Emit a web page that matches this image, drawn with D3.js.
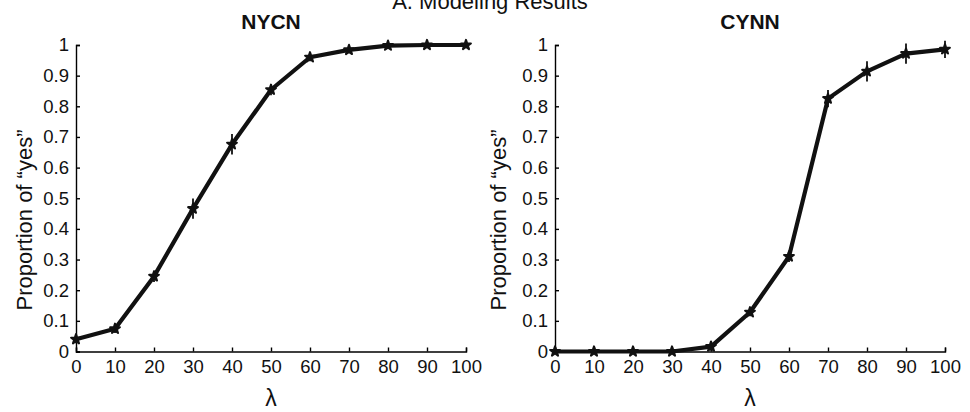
<!DOCTYPE html>
<html>
<head>
<meta charset="utf-8">
<script src="https://cdn.jsdelivr.net/npm/d3@7"></script>
<style>
    html, body { margin: 0; padding: 0; background: #fff; }
    svg { display: block; font-family: 'Liberation Sans', Arial, sans-serif; }
    .axis path, .axis line { stroke: #000; stroke-width: 1.4; }
    .axis text { font-size: 18.5px; fill: #111; }
</style>
</head>
<body>
<div id="chart"></div>
<script>
const lambdaValues = [0, 10, 20, 30, 40, 50, 60, 70, 80, 90, 100];
const yTicks = [0, 0.1, 0.2, 0.3, 0.4, 0.5, 0.6, 0.7, 0.8, 0.9, 1];

const nycnYes = [0.04, 0.074, 0.245, 0.466, 0.676, 0.854, 0.96, 0.984, 0.998, 1.0, 1.0];
const nycnErr = [0.01, 0.01, 0.015, 0.03, 0.03, 0.015, 0.01, 0.008, 0.005, 0.005, 0.005];

const cynnYes = [0, 0, 0, 0, 0.016, 0.128, 0.31, 0.825, 0.914, 0.972, 0.986];
const cynnErr = [0, 0, 0, 0, 0.01, 0.01, 0.015, 0.025, 0.03, 0.03, 0.025];

const panels = [
    { title: 'NYCN', values: nycnYes, errors: nycnErr, left: 76, right: 466, labelX: 32 },
    { title: 'CYNN', values: cynnYes, errors: cynnErr, left: 555, right: 945, labelX: 506 }
];

const width = 970;
const height = 412;
const plotTop = 45;
const plotBottom = 351.5;

const svg = d3.select('#chart')
    .append('svg')
    .attr('width', width)
    .attr('height', height)
    .attr('viewBox', `0 0 ${width} ${height}`);

// figure title, clipped by the top edge like the reference
svg.append('text')
    .attr('x', 490)
    .attr('y', 9)
    .attr('text-anchor', 'middle')
    .attr('font-size', 22)
    .attr('fill', '#111')
    .text('A. Modeling Results');

panels.forEach(panel => drawPanel(panel));

function drawPanel(panel) {
    const x = d3.scaleLinear()
        .domain([0, 100])
        .range([panel.left, panel.right]);

    const y = d3.scaleLinear()
        .domain([0, 1])
        .range([plotBottom, plotTop]);

    const g = svg.append('g');

    g.append('g')
        .attr('class', 'axis')
        .attr('transform', `translate(0,${plotBottom})`)
        .call(d3.axisTop(x).tickValues(lambdaValues).tickSize(4).tickSizeOuter(4).tickFormat(d3.format('d')))
        .call(axis => axis.selectAll('text')
            .attr('y', 21)
            .attr('dy', 0));

    g.append('g')
        .attr('class', 'axis')
        .attr('transform', `translate(${panel.left},0)`)
        .call(d3.axisRight(y).tickValues(yTicks).tickSize(4).tickSizeOuter(4).tickFormat(d3.format('~g')))
        .call(axis => axis.selectAll('text')
            .attr('x', -7)
            .attr('text-anchor', 'end'));

    const center = (panel.left + panel.right) / 2;

    g.append('text')
        .attr('x', center)
        .attr('y', 29)
        .attr('text-anchor', 'middle')
        .attr('font-size', 21)
        .attr('font-weight', 'bold')
        .attr('fill', '#111')
        .text(panel.title);

    g.append('text')
        .attr('x', center)
        .attr('y', 406)
        .attr('text-anchor', 'middle')
        .attr('font-size', 23)
        .attr('fill', '#111')
        .text('λ');

    g.append('text')
        .attr('transform', `translate(${panel.labelX},220) rotate(-90)`)
        .attr('text-anchor', 'middle')
        .attr('font-size', 22)
        .attr('fill', '#111')
        .text('Proportion of “yes”');

    const points = lambdaValues.map((lambda, i) => ({
        lambda,
        value: panel.values[i],
        error: panel.errors[i]
    }));

    g.append('path')
        .datum(points)
        .attr('fill', 'none')
        .attr('stroke', '#111')
        .attr('stroke-width', 4.2)
        .attr('stroke-linejoin', 'round')
        .attr('d', d3.line()
            .x(point => x(point.lambda))
            .y(point => y(point.value)));

    g.append('g')
        .selectAll('line')
        .data(points.filter(point => point.error > 0))
        .join('line')
        .attr('stroke', '#111')
        .attr('stroke-width', 1.8)
        .attr('x1', point => x(point.lambda))
        .attr('x2', point => x(point.lambda))
        .attr('y1', point => y(point.value - point.error) + 1)
        .attr('y2', point => y(point.value + point.error) - 1);

    g.append('g')
        .selectAll('path')
        .data(points)
        .join('path')
        .attr('transform', point => `translate(${x(point.lambda)},${y(point.value)})`)
        .attr('fill', '#111')
        .attr('stroke', '#111')
        .attr('stroke-width', 2)
        .attr('stroke-linejoin', 'round')
        .attr('d', d3.symbol(d3.symbolStar, 30));
}
</script>
</body>
</html>
